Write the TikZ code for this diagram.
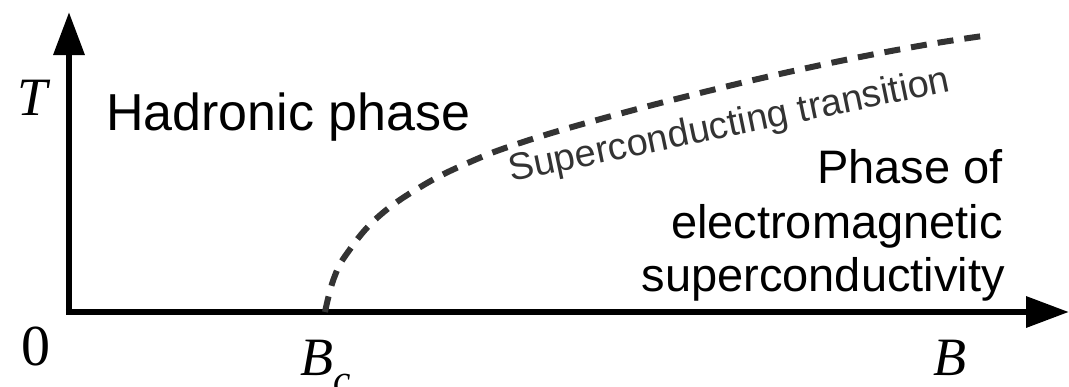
\documentclass[tikz,border=0pt]{standalone}
\usepackage{fontspec}
\setmainfont{Liberation Serif}
\setsansfont{Liberation Sans}
\usetikzlibrary{arrows.meta}
\definecolor{curvegray}{HTML}{333333}
\tikzset{
  axis/.style={line width=6.5pt, line join=miter, -{Triangle[length=43pt,width=30pt]}},
  transition/.style={line width=6pt, curvegray, dash pattern=on 16pt off 11pt},
  phaselabel/.style={inner sep=0pt, font=\sffamily\fontsize{52}{60}\selectfont},
  sclabel/.style={inner sep=0pt, font=\sffamily\fontsize{47}{54}\selectfont},
  curvelabel/.style={inner sep=0pt, text=curvegray, font=\sffamily\fontsize{38}{44}\selectfont},
  axislabel/.style={inner sep=0pt, font=\rmfamily\itshape\fontsize{54}{60}\selectfont},
  zerolabel/.style={inner sep=0pt, font=\rmfamily\fontsize{58}{64}\selectfont}
}
\begin{document}
\begin{tikzpicture}[x=1pt,y=-1pt]
\useasboundingbox (0,0) rectangle (1069,386);
\clip (0,0) rectangle (1069,386);
\coordinate (ytip) at (69,12);
\coordinate (orig) at (69,312);
\coordinate (xtip) at (1069,312);
\draw[axis] (orig) -- (ytip);
\draw[axis] (65.75,312) -- (xtip);
\coordinate (bc) at (325,312);
\draw[transition] plot[smooth, tension=0.7] coordinates {
 (bc) (334,278) (348,252) (378,217) (422,186)
 (470,162) (520,143) (597,120) (700,93)
 (807,68) (913,47) (990,35)};
\node[axislabel, anchor=base] (T) at (33,115) {T};
\node[zerolabel, anchor=base] (zero) at (35.5,365) {0};
\node[axislabel, anchor=base west] (Bc) at (300,375) {B\raisebox{-17pt}{\fontsize{39}{39}\selectfont c}};
\node[axislabel, anchor=base] (B) at (950,375) {B};
\node[phaselabel, anchor=base west] (had) at (106,130) {Hadronic phase};
\node[sclabel, anchor=base east] (ph1) at (1003,183) {Phase of};
\node[sclabel, anchor=base east] (ph2) at (1003,238) {electromagnetic};
\node[sclabel, anchor=base east] (ph3) at (1005,291) {superconductivity};
\node[curvelabel, anchor=base west, rotate=11.7] (sct) at (511,182) {Superconducting transition};
\end{tikzpicture}
\end{document}
